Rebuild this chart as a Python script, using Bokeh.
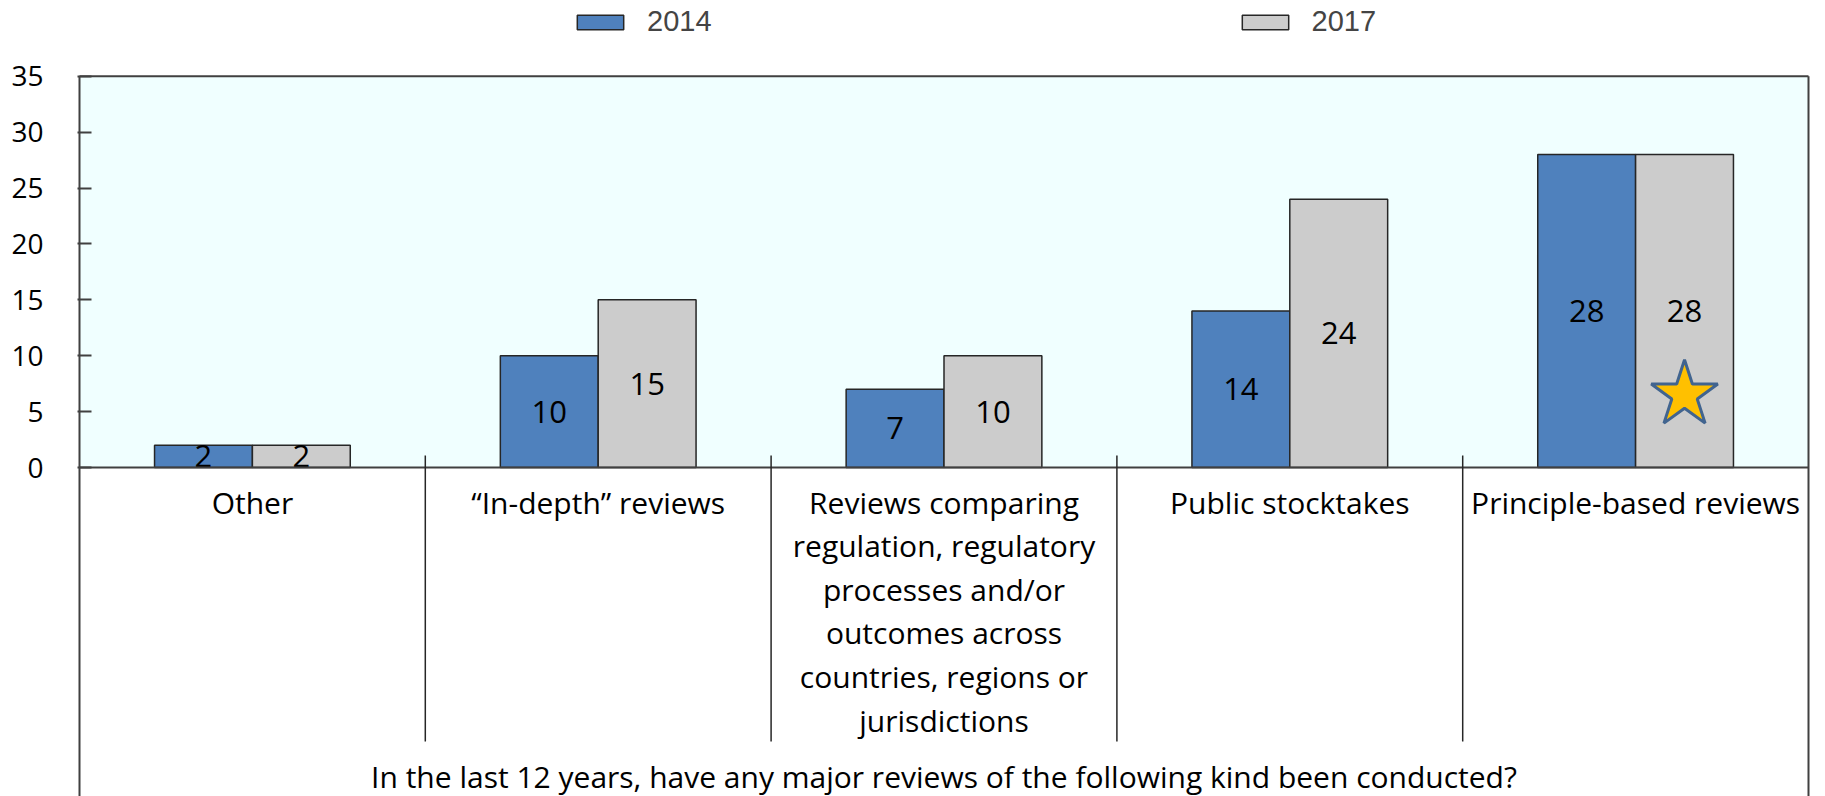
from bokeh.plotting import figure
from bokeh.models import Range1d, FixedTicker, Legend, LegendItem
from bokeh.core.properties import value
from bokeh.embed import file_html
from bokeh.resources import INLINE

# ---------------- data ----------------
categories = [
    "Other",
    "\u201cIn-depth\u201d reviews",
    "Reviews comparing regulation, regulatory processes and/or outcomes across countries, regions or jurisdictions",
    "Public stocktakes",
    "Principle-based reviews",
]
category_labels = [
    "Other",
    "\u201cIn-depth\u201d reviews",
    "Reviews comparing\nregulation, regulatory\nprocesses and/or\noutcomes across\ncountries, regions or\njurisdictions",
    "Public stocktakes",
    "Principle-based reviews",
]
series_names = ["2014", "2017"]
values_2014 = [2, 10, 7, 14, 28]
values_2017 = [2, 15, 10, 24, 28]
y_ticks = [0, 5, 10, 15, 20, 25, 30, 35]
star_category = 4
star_value = 6.5
question = "In the last 12 years, have any major reviews of the following kind been conducted?"

# ---------------- layout constants ----------------
W, H = 1812, 796
ZERO_PX = 467.0            # zero line, px from top of figure
UNIT_PX = 11.18            # px per y unit
Y_MAX = 35
BAR_W = 0.283
FONT = "Open Sans"
LEG_FONT = "Liberation Sans"
BORDER = "#404040"
PAD = 2 / 345.8

y_start = -(H - ZERO_PX) / UNIT_PX
y_end = ZERO_PX / UNIT_PX

p = figure(width=W, height=H, output_backend="svg", toolbar_location=None,
           x_range=Range1d(-PAD, 5 + PAD), y_range=Range1d(y_start, y_end),
           x_axis_location=None, min_border_left=77, min_border_right=2,
           min_border_top=0, min_border_bottom=0)
p.grid.visible = False
p.outline_line_color = None
p.background_fill_color = "white"
p.border_fill_color = "white"

n = len(categories)
centers = [i + 0.5 for i in range(n)]

# plot area background
p.quad(left=[0], right=[n], bottom=[0], top=[Y_MAX], fill_color="#F0FFFF", line_color=None)

# bars
x14 = [c - BAR_W / 2 for c in centers]
x17 = [c + BAR_W / 2 for c in centers]
r14 = p.vbar(x=x14, top=values_2014, bottom=0, width=BAR_W, fill_color="#4F81BD",
             line_color="#262626", line_width=1.5)
r17 = p.vbar(x=x17, top=values_2017, bottom=0, width=BAR_W, fill_color="#CCCCCC",
             line_color="#262626", line_width=1.5)

# value labels
p.text(x=x14 + x17, y=[v / 2 for v in values_2014 + values_2017],
       text=[str(v) for v in values_2014 + values_2017],
       text_align="center", text_baseline="middle", text_font=value(FONT),
       text_font_size="31px", text_color="black")

# star
p.scatter(x=[x17[star_category]], y=[star_value], marker="star", size=70,
          fill_color="#FFC000", line_color="#41648F", line_width=3)

# borders
p.segment(x0=[0, n, 0, 0], y0=[Y_MAX, Y_MAX, Y_MAX, 0], x1=[0, n, n, n], y1=[y_start, y_start, Y_MAX, 0],
          line_color=BORDER, line_width=2)
# category separators
seps = list(range(1, n))
p.segment(x0=seps, x1=seps, y0=[12 / UNIT_PX] * len(seps), y1=[-(274) / UNIT_PX] * len(seps),
          line_color="#262626", line_width=1.5)

# category labels
p.text(x=centers, y=[0] * n, text=category_labels, text_align="center", text_baseline="top",
       y_offset=14, text_font=value(FONT), text_font_size="30px", text_color="black",
       text_line_height=1.065)

# question
p.text(x=[n / 2], y=[0], text=[question], text_align="center", text_baseline="alphabetic",
       y_offset=309, text_font=value(FONT), text_font_size="30px", text_color="black")

# y axis
ax = p.yaxis[0]
ax.ticker = FixedTicker(ticks=y_ticks)
ax.axis_line_color = None
ax.major_tick_in = 14
ax.major_tick_out = 0
ax.major_tick_line_color = BORDER
ax.major_tick_line_width = 2
ax.minor_tick_line_color = None
ax.major_label_standoff = 34
ax.major_label_text_font = FONT
ax.major_label_text_font_size = "28px"
ax.major_label_text_color = "black"

# legend
legend = Legend(items=[LegendItem(label=series_names[0], renderers=[r14]),
                       LegendItem(label=series_names[1], renderers=[r17])],
                orientation="horizontal", location=(494, H - 38), padding=0, margin=0,
                spacing=524, glyph_width=58, glyph_height=18, label_standoff=18,
                border_line_color=None, background_fill_alpha=0,
                label_text_font=LEG_FONT, label_text_font_size="29px")
p.add_layout(legend)

open("out.html", "w").write(file_html(p, INLINE))
